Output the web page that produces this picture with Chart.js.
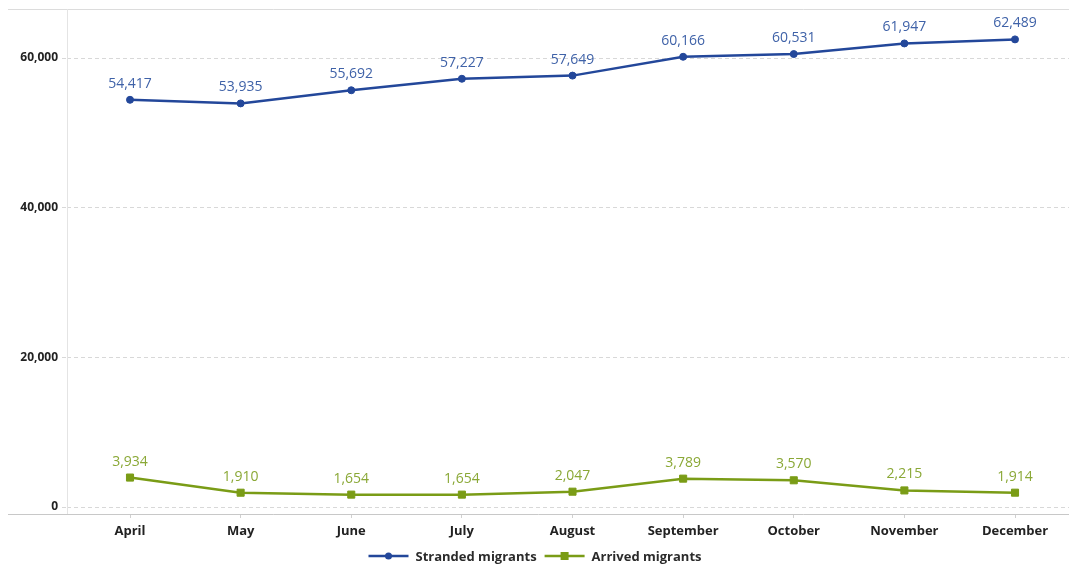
<!DOCTYPE html>
<html>
<head>
<meta charset="utf-8">
<script src="https://cdn.jsdelivr.net/npm/chart.js@4"></script>
<style>
  html, body { margin: 0; padding: 0; background: #fff; }
  #wrap { width: 1069px; height: 568px; position: relative; }
</style>
</head>
<body>
<div id="wrap"><canvas id="grafico"></canvas></div>
<script>
const months = ['April', 'May', 'June', 'July', 'August', 'September', 'October', 'November', 'December'];
const stranded = [54417, 53935, 55692, 57227, 57649, 60166, 60531, 61947, 62489];
const arrived = [3934, 1910, 1654, 1654, 2047, 3789, 3570, 2215, 1914];
const yTicks = [0, 20000, 40000, 60000];

const FONT = "'Open Sans', 'Noto Sans', sans-serif";
const fmt = v => v.toLocaleString('en-US');

// frame lines: top border, bottom axis line, left axis line
const framePlugin = {
  id: 'frame',
  beforeDatasetsDraw(chart) {
    const { ctx, chartArea: a } = chart;
    ctx.save();
    ctx.lineWidth = 1;
    ctx.strokeStyle = '#dcdcdc';
    ctx.beginPath();
    ctx.moveTo(8, a.top + 0.5); ctx.lineTo(chart.width, a.top + 0.5);
    ctx.stroke();
    ctx.strokeStyle = '#e4e4e4';
    ctx.beginPath();
    ctx.moveTo(a.left + 0.5, a.top); ctx.lineTo(a.left + 0.5, a.bottom);
    ctx.stroke();
    ctx.strokeStyle = '#c8c8c8';
    ctx.beginPath();
    ctx.moveTo(8, a.bottom + 0.5); ctx.lineTo(chart.width, a.bottom + 0.5);
    ctx.stroke();
    ctx.restore();
  }
};

// value labels above each point
const valueLabels = {
  id: 'valueLabels',
  afterDatasetsDraw(chart) {
    const ctx = chart.ctx;
    ctx.save();
    ctx.font = '14px ' + FONT;
    ctx.textAlign = 'center';
    ctx.textBaseline = 'bottom';
    chart.data.datasets.forEach((ds, i) => {
      ctx.fillStyle = ds.labelColor;
      chart.getDatasetMeta(i).data.forEach((pt, j) => {
        ctx.fillText(fmt(ds.data[j].y), pt.x, pt.y - 9);
      });
    });
    ctx.restore();
  }
};

// legend with line + marker icons
const lineLegend = {
  id: 'lineLegend',
  afterDraw(chart) {
    const ctx = chart.ctx;
    const y = 556;
    ctx.save();
    ctx.font = 'bold 13px ' + FONT;
    ctx.textBaseline = 'middle';
    const items = chart.data.datasets.map(ds => ({ ds, w: 40 + 7 + ctx.measureText(ds.label).width }));
    const gap = 8;
    let total = items.reduce((s, it) => s + it.w, 0) + gap * (items.length - 1);
    let x = 535 - total / 2;
    items.forEach(({ ds, w }) => {
      ctx.strokeStyle = ds.borderColor;
      ctx.lineWidth = 2.5;
      ctx.beginPath();
      ctx.moveTo(x, y); ctx.lineTo(x + 40, y);
      ctx.stroke();
      ctx.fillStyle = ds.borderColor;
      if (ds.pointStyle === 'rect') {
        ctx.fillRect(x + 16, y - 4, 8, 8);
      } else {
        ctx.beginPath();
        ctx.arc(x + 20, y, 3.5, 0, Math.PI * 2);
        ctx.fill();
      }
      ctx.fillStyle = '#2b2b2b';
      ctx.fillText(ds.label, x + 47, y + 1);
      x += w + gap;
    });
    ctx.restore();
  }
};

new Chart(document.getElementById('grafico').getContext('2d'), {
  type: 'line',
  data: {
    datasets: [{
      label: 'Stranded migrants',
      data: stranded,
      borderColor: '#23479a',
      backgroundColor: '#23479a',
      labelColor: '#3f62a8',
      borderWidth: 2.5,
      pointStyle: 'circle',
      pointRadius: 3.5,
      pointBorderWidth: 1,
      tension: 0
    }, {
      label: 'Arrived migrants',
      data: arrived,
      borderColor: '#7a9c16',
      backgroundColor: '#7a9c16',
      labelColor: '#8aa836',
      borderWidth: 2.5,
      pointStyle: 'rect',
      pointRadius: 5,
      pointBorderWidth: 1,
      tension: 0
    }].map(ds => ({ ...ds, data: ds.data.map((v, i) => ({ x: i, y: v })) }))
  },
  options: {
    responsive: true,
    maintainAspectRatio: false,
    animation: false,
    layout: { autoPadding: false, padding: { top: 9, right: 0, left: 0, bottom: 24 } },
    plugins: {
      legend: { display: false },
      tooltip: { enabled: false }
    },
    scales: {
      x: {
        type: 'linear',
        min: -0.5695,
        max: 8.488,
        afterBuildTicks: s => { s.ticks = months.map((m, i) => ({ value: i })); },
        afterFit: s => { s.height = 30; s.paddingLeft = 0; s.paddingRight = 0; },
        border: { display: false },
        grid: { drawOnChartArea: false, drawTicks: true, tickLength: 4, color: '#d0d0d0' },
        ticks: {
          autoSkip: false,
          maxRotation: 0,
          padding: 5,
          color: '#222',
          font: { family: FONT, size: 13, weight: 'bold' },
          callback: v => months[v] || ''
        }
      },
      y: {
        min: -935,
        max: 66550,
        afterBuildTicks: s => { s.ticks = yTicks.map(v => ({ value: v })); },
        afterFit: s => { s.width = 67; s.paddingTop = 0; s.paddingBottom = 0; },
        border: { display: false, dash: [4, 3] },
        grid: {
          color: '#d8d8d8',
          drawTicks: true,
          tickLength: 5,
          tickColor: '#d8d8d8',
          tickBorderDash: [4, 3]
        },
        ticks: {
          padding: 4,
          color: '#222',
          font: { family: FONT, size: 12, weight: 'bold' },
          callback: v => fmt(v)
        }
      }
    }
  },
  plugins: [framePlugin, valueLabels, lineLegend]
});
</script>
</body>
</html>
